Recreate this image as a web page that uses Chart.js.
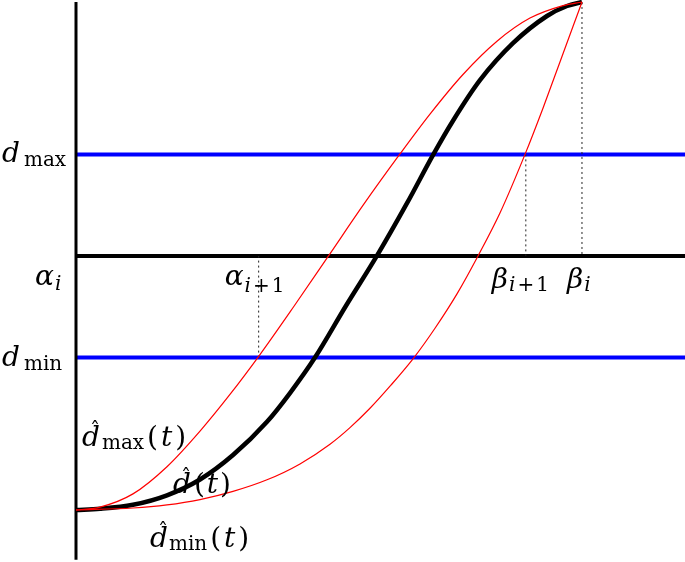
<!DOCTYPE html>
<html>
<head>
<meta charset="utf-8">
<script src="https://cdn.jsdelivr.net/npm/chart.js@4/dist/chart.umd.min.js"></script>
<style>
html,body{margin:0;padding:0;background:#fff;}
#wrap{width:685px;height:562px;}
</style>
</head>
<body>
<div id="wrap"><canvas id="c" width="685" height="562"></canvas></div>
<script>
// ---- data (normalised time t, normalised level d) ----
const tBlack = [0,0.0474,0.1126,0.1798,0.2451,0.3103,0.3775,0.4229,0.4723,0.5336,0.5949,0.6542,0.7055,0.7451,0.7984,0.8636,0.9308,0.9704,1];
const dBlack = [0,0.0024,0.0102,0.0289,0.0600,0.1081,0.1736,0.2302,0.3000,0.4020,0.5006,0.6039,0.6986,0.7663,0.8461,0.9189,0.9724,0.9921,1];

const tUpper = [0,0.0474,0.1126,0.1798,0.2451,0.3043,0.3636,0.4308,0.4980,0.5692,0.6403,0.6996,0.7648,0.8320,0.8972,0.9625,1];
const dUpper = [0,0.0057,0.0317,0.0852,0.1553,0.2274,0.3059,0.4010,0.4986,0.6024,0.7008,0.7793,0.8573,0.9228,0.9683,0.9929,1];

const tLower = [0,0.1126,0.1798,0.2451,0.3103,0.3775,0.4427,0.5020,0.5415,0.5810,0.6206,0.6680,0.7095,0.7530,0.7945,0.8379,0.8874,0.9229,0.9565,0.9822,1];
const dLower = [0,0.0039,0.0100,0.0205,0.0366,0.0594,0.0907,0.1295,0.1622,0.2002,0.2437,0.3000,0.3577,0.4254,0.5000,0.5846,0.7000,0.7909,0.8819,0.9516,1];

const dMin = 0.3, alphaLevel = 0.5, dMax = 0.7;
const dropT    = [0.361, 0.889, 1.0];   // alpha_{i+1}, beta_{i+1}, beta_i
const dropFrom = [0.3,   0.7,   1.0];
const tEnd = 1.2036, tStart = -0.1502;
const yLow = -0.1024, yHigh = 1.0039, axisBottom = -0.098;

const pts = (t, d) => t.map((x, i) => ({x: x, y: d[i]}));

const datasets = [
  {data: pts(tUpper, dUpper), borderColor:'#ff0000', borderWidth:1.2, cubicInterpolationMode:'monotone'},
  {data: pts(tLower, dLower), borderColor:'#ff0000', borderWidth:1.2, cubicInterpolationMode:'monotone'},
  {data: pts(tBlack, dBlack), borderColor:'#000000', borderWidth:4.5, cubicInterpolationMode:'monotone'},
];
dropT.forEach((t, i) => datasets.push({
  data: [{x:t, y:dropFrom[i]}, {x:t, y:alphaLevel}],
  borderColor:'#222', borderWidth:1, borderDash:[2,3]
}));
datasets.push({data:[{x:0,y:alphaLevel},{x:tEnd,y:alphaLevel}], borderColor:'#000', borderWidth:4});
datasets.push({data:[{x:0,y:axisBottom},{x:0,y:1.0}], borderColor:'#000', borderWidth:3});
datasets.push({data:[{x:0,y:dMax},{x:tEnd,y:dMax}], borderColor:'#0000ff', borderWidth:4});
datasets.push({data:[{x:0,y:dMin},{x:tEnd,y:dMin}], borderColor:'#0000ff', borderWidth:4});
datasets.forEach(ds => { ds.pointRadius = 0; ds.fill = false; ds.clip = false; });

const FAM = '"DejaVu Serif", "Liberation Serif", serif';
const L = 28, S = 20;
function drawMath(ctx, x, y, segs) {
  let cx = x;
  segs.forEach(s => {
    const size = s.s === 'S' ? S : L;
    ctx.font = (s.i ? 'italic ' : '') + size + 'px ' + FAM;
    const w = ctx.measureText(s.t).width;
    ctx.fillText(s.t, cx, y + (s.dy || 0));
    if (s.hat) {
      ctx.font = S + 'px ' + FAM;
      const hw = ctx.measureText('ˆ').width;
      ctx.fillText('ˆ', cx + w/2 - hw/2 + 4, y - 9);
    }
    cx += w + (s.gap || 0);
  });
}

const labelPlugin = {
  id: 'labels',
  afterDatasetsDraw(chart) {
    const ctx = chart.ctx;
    const xs = chart.scales.x, ys = chart.scales.y;
    const X = v => xs.getPixelForValue(v), Y = v => ys.getPixelForValue(v);
    ctx.save();
    ctx.fillStyle = '#000';
    ctx.textBaseline = 'alphabetic';
    ctx.textAlign = 'left';
    const P = (g) => [{t:'(', gap:g}, {t:'t', i:true, gap:g}, {t:')'}];
    drawMath(ctx, 2, Y(dMax) + 8, [{t:'d', i:true, gap:4}, {t:'max', s:'S', dy:4}]);
    drawMath(ctx, 2, Y(dMin) + 8, [{t:'d', i:true, gap:4}, {t:'min', s:'S', dy:4}]);
    drawMath(ctx, 35, Y(alphaLevel) + 29, [{t:'α', i:true, gap:1}, {t:'i', i:true, s:'S', dy:5}]);
    drawMath(ctx, X(dropT[0]) - 34, Y(alphaLevel) + 29, [{t:'α', i:true, gap:1}, {t:'i', i:true, s:'S', dy:7, gap:2}, {t:'+', s:'S', dy:7, gap:2}, {t:'1', s:'S', dy:7}]);
    drawMath(ctx, X(dropT[1]) - 34, Y(alphaLevel) + 32, [{t:'β', i:true, gap:1}, {t:'i', i:true, s:'S', dy:3, gap:2}, {t:'+', s:'S', dy:3, gap:2}, {t:'1', s:'S', dy:3}]);
    drawMath(ctx, X(dropT[2]) - 15, Y(alphaLevel) + 32, [{t:'β', i:true, gap:1}, {t:'i', i:true, s:'S', dy:3}]);
    drawMath(ctx, X(0) + 6, Y(0) - 64, [{t:'d', i:true, hat:true, gap:2}, {t:'max', s:'S', dy:3, gap:3}].concat(P(3)));
    drawMath(ctx, X(0) + 97, Y(0) - 17, [{t:'d', i:true, hat:true, gap:3}].concat(P(2)));
    drawMath(ctx, X(0) + 74, Y(0) + 37, [{t:'d', i:true, hat:true, gap:1}, {t:'min', s:'S', dy:3, gap:3}].concat(P(3)));
    ctx.restore();
  }
};

new Chart(document.getElementById('c'), {
  type: 'line',
  data: { datasets: datasets },
  options: {
    responsive: false,
    animation: false,
    layout: { padding: 0 },
    plugins: { legend: {display:false}, tooltip: {enabled:false} },
    scales: {
      x: { type:'linear', min: tStart, max: tEnd, display:false },
      y: { type:'linear', min: yLow, max: yHigh, display:false }
    }
  },
  plugins: [labelPlugin]
});
</script>
</body>
</html>
